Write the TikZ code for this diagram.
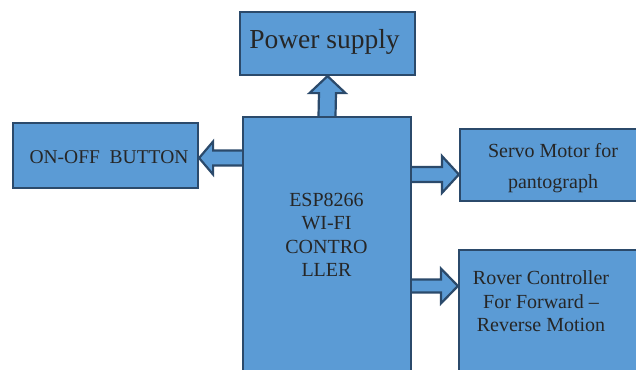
\documentclass[tikz,border=0pt]{standalone}
\usepackage{fontspec}
\setmainfont{Liberation Serif}
\usetikzlibrary{calc}
\definecolor{boxfill}{HTML}{5B9BD5}
\definecolor{boxline}{HTML}{2B4A6B}
\tikzset{
  blk/.style={draw=boxline, fill=boxfill, line width=2.2pt, rectangle, inner sep=0pt},
  blkarrow/.style={draw=boxline, fill=boxfill, line width=2.2pt, line join=miter},
  lbl/.style={font=\fontsize{20}{23.4}\selectfont, align=center, inner sep=0pt, text=black!85},
}
\begin{document}
\begin{tikzpicture}[x=1pt,y=-1pt]
\useasboundingbox (0,0) rectangle (636,369);
\clip (0,0) rectangle (636,369);
% boxes
\node[blk, minimum width=175pt, minimum height=63pt] (power) at (327.5,43.5) {};
\node[blk, minimum width=168pt, minimum height=270pt] (esp) at (327,252) {};
\node[blk, minimum width=185pt, minimum height=65pt] (onoff) at (105.5,155.5) {};
\node[blk, minimum width=190pt, minimum height=72pt] (servo) at (555,165) {};
\node[blk, minimum width=190pt, minimum height=150pt] (rover) at (554,325) {};
% texts (base anchor = baseline of the last line)
\node[inner sep=0pt, anchor=base, font=\fontsize{27.5}{30}\selectfont, text=black!85] (ptext) at (324.5,48.3) {Power supply};
\node[lbl, anchor=base, font=\fontsize{19.5}{23.4}\selectfont] (otext) at (109,163.3) {ON-OFF\ \ BUTTON};
\node[lbl, anchor=base] (etext) at (326.5,276.7) {ESP8266\\WI-FI\\CONTRO\\LLER};
\node[lbl, anchor=base, font=\fontsize{20}{31}\selectfont] (stext) at (553,188) {Servo Motor for\\pantograph};
\node[lbl, anchor=base] (rtext) at (541,331.7) {Rover Controller\\For Forward --\\Reverse Motion};
% block arrows
\coordinate (uS) at (esp.north);
\coordinate (uT) at (power.south);
\filldraw[blkarrow] ($(uS)+(-8.5,0)$) -- ($(uT)+(-8.5,17)$) -- ($(uT)+(-18,17)$) -- (uT)
  -- ($(uT)+(18,17)$) -- ($(uT)+(8.5,17)$) -- ($(uS)+(8.5,0)$);
\coordinate (lS) at (esp.west |- 0,158);
\coordinate (lT) at (onoff.east |- 0,158);
\filldraw[blkarrow] ($(lS)+(0,-7.5)$) -- ($(lT)+(14,-7.5)$) -- ($(lT)+(14,-16.5)$) -- (lT)
  -- ($(lT)+(14,16.5)$) -- ($(lT)+(14,7.5)$) -- ($(lS)+(0,7.5)$);
\coordinate (sS) at (esp.east |- 0,174.5);
\coordinate (sT) at (servo.west |- 0,174.5);
\filldraw[blkarrow] ($(sS)+(0,-7.5)$) -- ($(sT)+(-17,-7.5)$) -- ($(sT)+(-17,-18.5)$) -- (sT)
  -- ($(sT)+(-17,18.5)$) -- ($(sT)+(-17,7.5)$) -- ($(sS)+(0,7.5)$);
\coordinate (rS) at (esp.east |- 0,286);
\coordinate (rT) at (rover.west |- 0,286);
\filldraw[blkarrow] ($(rS)+(0,-6.5)$) -- ($(rT)+(-17,-6.5)$) -- ($(rT)+(-17,-17.5)$) -- (rT)
  -- ($(rT)+(-17,17.5)$) -- ($(rT)+(-17,6.5)$) -- ($(rS)+(0,6.5)$);
\end{tikzpicture}
\end{document}
